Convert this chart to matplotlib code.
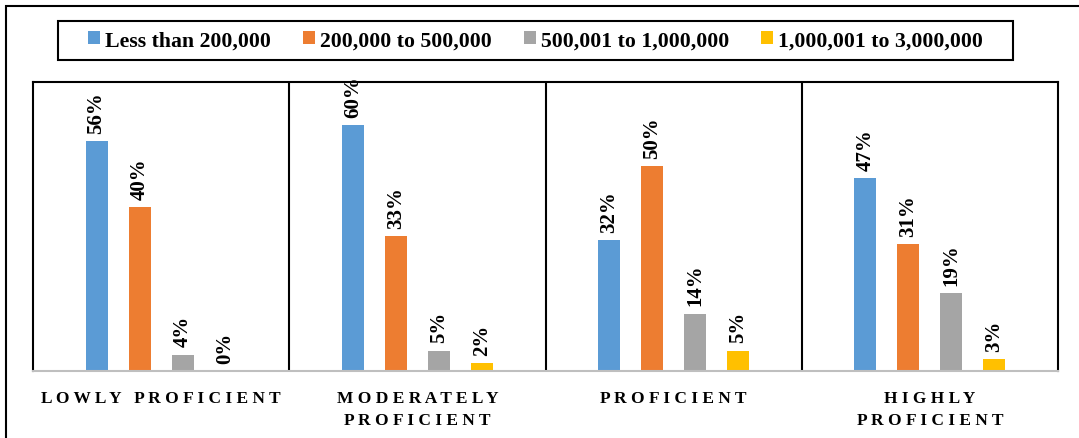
import numpy as np
import matplotlib.pyplot as plt
from matplotlib.patches import Rectangle

categories = ['LOWLY PROFICIENT', 'MODERATELY\nPROFICIENT', 'PROFICIENT', 'HIGHLY\nPROFICIENT']
series_names = ['Less than 200,000', '200,000 to 500,000', '500,001 to 1,000,000', '1,000,001 to 3,000,000']
less_200k = [56, 60, 32, 47]
from_200k_500k = [40, 33, 50, 31]
from_500k_1m = [4, 5, 14, 19]
from_1m_3m = [0, 2, 5, 3]
colors = ['#5b9bd5', '#ed7d31', '#a5a5a5', '#ffc000']

values = [less_200k, from_200k_500k, from_500k_1m, from_1m_3m]

fig = plt.figure(figsize=(10.79, 4.39), dpi=100)
W, H = 1079, 439
ax = fig.add_axes([33 / W, (H - 372) / H, (1058 - 33) / W, (372 - 83) / H])

# outer frame
fig.patches.append(Rectangle((6 / W, -0.1), 1.2, (H - 7) / H + 0.1, transform=fig.transFigure,
                             fill=False, edgecolor='black', linewidth=1.5))
# legend box
fig.patches.append(Rectangle((58 / W, 1 - 61 / H), (1013 - 58) / W, 39 / H, transform=fig.transFigure,
                             fill=False, edgecolor='black', linewidth=1.5))

x = np.arange(len(categories))
width = 0.086
step = 0.168
for i, (name, vals) in enumerate(zip(series_names, values)):
    pos = x + (i - 1.5) * step
    ax.bar(pos, vals, width, color=colors[i], label=name, zorder=2)
    for p, v in zip(pos, vals):
        ax.text(p, v + 2, '{}%'.format(v), rotation=90, ha='center', va='bottom',
                fontsize=15, fontweight='bold', family='Liberation Serif')

ax.set_xlim(-0.5, 3.5)
ax.set_ylim(0, 70.5)
ax.set_yticks([])
for b in [0.5, 1.5, 2.5]:
    ax.axvline(b, color='black', linewidth=1.5, zorder=1)
for s in ['left', 'right', 'top']:
    ax.spines[s].set_linewidth(1.5)
ax.spines['bottom'].set_color('#bfbfbf')
ax.spines['bottom'].set_linewidth(1.5)

ax.set_xticks(x)
spaced = ['\n'.join(' '.join(line) for line in c.split('\n')) for c in categories]
ax.set_xticklabels(spaced, fontsize=12.5, fontweight='bold', family='Liberation Serif', linespacing=1.45)
ax.tick_params(axis='x', length=0, pad=14)

leg = fig.legend(loc='center', bbox_to_anchor=((58 + 1013) / 2 / W, 1 - 41.5 / H), ncol=4,
                 prop={'family': 'Liberation Serif', 'weight': 'bold', 'size': 15.7},
                 handlelength=0.55, handleheight=0.55, handletextpad=0.25, columnspacing=1.45,
                 frameon=False)

plt.savefig('out.png', dpi=100)
